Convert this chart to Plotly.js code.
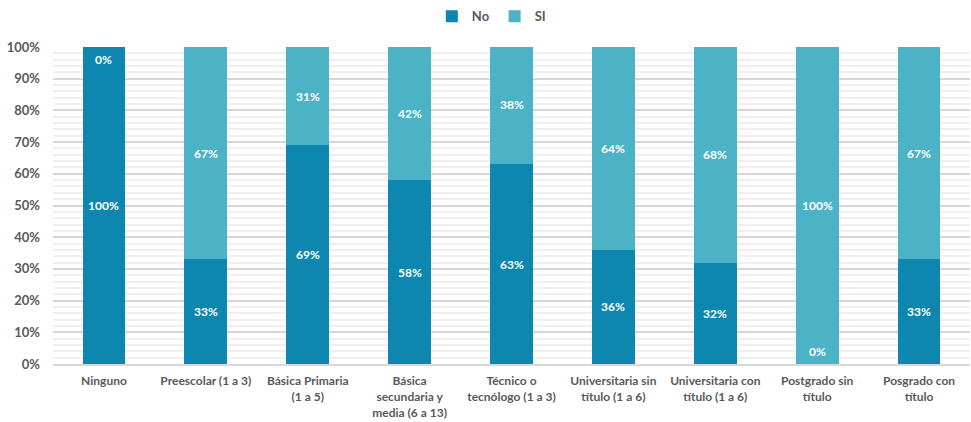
<!DOCTYPE html>
<html>
<head>
<meta charset="utf-8">
<script src="https://cdn.plot.ly/plotly-3.0.1.min.js"></script>
<style>html,body{margin:0;padding:0;background:#fff}#chart{width:971px;height:422px}</style>
</head>
<body>
<div id="chart"></div>
<script>
const categories = [
  "Ninguno",
  "Preescolar (1 a 3)",
  "Básica Primaria<br>(1 a 5)",
  "Básica<br>secundaria y<br>media (6 a 13)",
  "Técnico o<br>tecnólogo (1 a 3)",
  "Universitaria sin<br>título (1 a 6)",
  "Universitaria con<br>título (1 a 6)",
  "Postgrado sin<br>título",
  "Posgrado con<br>título"
];
const noValues = [100, 33, 69, 58, 63, 36, 32, 0, 33];
const siValues = [0, 67, 31, 42, 38, 64, 68, 100, 67];
const seriesNames = ["No", "SI"];
const colors = ["#0e87b0", "#4bb3c5"];

const fontFam = "Lato, 'Noto Sans', sans-serif";

const traces = [
  {type: "bar", name: seriesNames[0], x: categories, y: noValues, marker: {color: colors[0]}, hoverinfo: "skip"},
  {type: "bar", name: seriesNames[1], x: categories, y: siValues, marker: {color: colors[1]}, hoverinfo: "skip"}
];

const annotations = [];
categories.forEach((c, i) => {
  const n = noValues[i], s = siValues[i];
  const noY = n === 0 ? 4 : n / 2;
  const siY = s === 0 ? 96 : Math.min(100, n + s / 2);
  annotations.push({x: c, y: noY, xref: "x", yref: "y", text: n + "%", showarrow: false,
    font: {color: "#ffffff", size: 12, family: fontFam, weight: 700}});
  annotations.push({x: c, y: siY, xref: "x", yref: "y", text: s + "%", showarrow: false,
    font: {color: "#ffffff", size: 12, family: fontFam, weight: 700}});
});

const layout = {
  width: 971, height: 422,
  margin: {l: 53, r: 1, t: 45, b: 58},
  barmode: "stack",
  bargap: 0.58,
  paper_bgcolor: "#ffffff",
  plot_bgcolor: "#ffffff",
  font: {family: fontFam, size: 12, color: "#595959"},
  showlegend: true,
  legend: {orientation: "h", traceorder: "normal", x: 0.478, xanchor: "center", y: 1.097, yanchor: "middle",
    font: {size: 13, color: "#595959", weight: 700}, itemwidth: 30, tracegroupgap: 0},
  xaxis: {
    type: "category", tickangle: 0, showgrid: false, zeroline: false,
    showline: true, linecolor: "#d9d9d9", linewidth: 2, ticks: "",
    ticklabelstandoff: 5,
    tickfont: {size: 12, color: "#595959", weight: 700}
  },
  yaxis: {
    range: [0, 100], dtick: 10, ticksuffix: "%", showgrid: true,
    gridcolor: "#d6d6d6", gridwidth: 2, zeroline: false, showline: false, ticks: "",
    ticklabelstandoff: 12,
    tickfont: {size: 13, color: "#595959", weight: 700},
    minor: {dtick: 2, showgrid: true, gridcolor: "#efefef", gridwidth: 2}
  },
  annotations: annotations
};

Plotly.newPlot("chart", traces, layout, {displayModeBar: false, staticPlot: true});
</script>
</body>
</html>
